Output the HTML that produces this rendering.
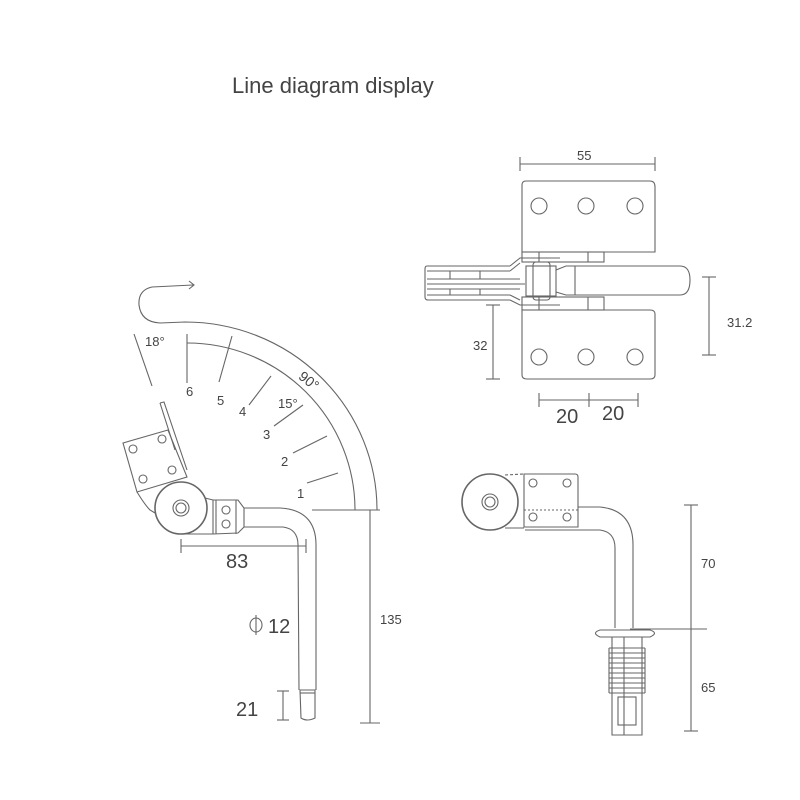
<!DOCTYPE html>
<html><head><meta charset="utf-8"><style>
html,body{margin:0;padding:0;background:#fff;width:800px;height:800px;overflow:hidden}
svg{display:block}
text{font-family:"Liberation Sans",sans-serif;fill:#444}
</style></head><body>
<svg width="800" height="800" viewBox="0 0 800 800" xmlns="http://www.w3.org/2000/svg">
<text x="232" y="93" font-size="22" fill="#444">Line diagram display</text>
<g fill="none" stroke="#666" stroke-width="1.1">
<!-- LEFT: arcs -->
<path d="M193,285 L152,287 Q138,290 139,305 Q141,322 160,323 L185,322 A192,188 0 0 1 377,510"/>
<path d="M189,281 L194,285 L189,289"/>
<path d="M187,343 A168,167 0 0 1 355,510"/>
<line x1="187" y1="334" x2="187" y2="383"/>
<line x1="312" y1="510" x2="380" y2="510"/>
<line x1="370" y1="510" x2="370" y2="723"/>
<line x1="360" y1="723" x2="380" y2="723"/>
<line x1="232" y1="336" x2="219" y2="382"/>
<line x1="271" y1="376" x2="249" y2="405"/>
<line x1="303" y1="405" x2="274" y2="426"/>
<line x1="327" y1="436" x2="293" y2="453"/>
<line x1="338" y1="473" x2="307" y2="483"/>
<line x1="134" y1="334" x2="152" y2="386"/>
<!-- bracket -->
<path d="M123,443 L168,430 L187,477 L137,492 Z"/>
<path d="M160,403 L164,402 L187,470 M160,403 L175,450"/>
<circle cx="133" cy="449" r="4"/><circle cx="162" cy="439" r="4"/>
<circle cx="143" cy="479" r="4"/><circle cx="172" cy="470" r="4"/>
<path d="M137,492 Q145,505 150,510 L155,513"/>
<!-- wheel -->
<circle cx="181" cy="508" r="26" stroke-width="1.6"/>
<circle cx="181" cy="508" r="8"/><circle cx="181" cy="508" r="5"/>
<path d="M205,498 L213,500 L238,500 L244,508 L244,527 L238,533 L213,534 L181,534"/>
<line x1="213" y1="500" x2="213" y2="534"/><line x1="216" y1="500" x2="216" y2="534"/>
<line x1="236" y1="500" x2="236" y2="534"/>
<circle cx="226" cy="510" r="4"/><circle cx="226" cy="524" r="4"/>
<!-- tube -->
<path d="M244,508 L280,508 Q316,510 316,545 L316,690"/>
<path d="M244,527 L283,527 Q298,529 298,545 L299,690"/>
<path d="M300,690 L315,690 L315,718 Q307,722 301,718 Z"/>
<line x1="300" y1="693" x2="315" y2="693"/>
<!-- 83 -->
<line x1="181" y1="546" x2="306" y2="546"/>
<line x1="181" y1="539" x2="181" y2="553"/><line x1="306" y1="539" x2="306" y2="553"/>
<!-- 21 -->
<line x1="283" y1="691" x2="283" y2="720"/>
<line x1="277" y1="691" x2="289" y2="691"/><line x1="277" y1="720" x2="289" y2="720"/>
<!-- phi -->
<ellipse cx="256" cy="625" rx="6" ry="7"/><line x1="256" y1="615" x2="256" y2="635"/>

<!-- RIGHT TOP -->
<line x1="520" y1="164" x2="655" y2="164"/>
<line x1="520" y1="157" x2="520" y2="171"/><line x1="655" y1="157" x2="655" y2="171"/>
<path d="M522,252 L522,185 Q522,181 526,181 L650,181 Q655,181 655,187 L655,252 Z"/>
<circle cx="539" cy="206" r="8"/><circle cx="586" cy="206" r="8"/><circle cx="635" cy="206" r="8"/>
<rect x="522" y="252" width="82" height="10"/>
<line x1="539" y1="252" x2="539" y2="262"/><line x1="588" y1="252" x2="588" y2="262"/>
<rect x="522" y="297" width="82" height="13"/>
<line x1="539" y1="297" x2="539" y2="310"/><line x1="588" y1="297" x2="588" y2="310"/>
<path d="M522,310 L650,310 Q655,310 655,314 L655,375 Q655,379 650,379 L527,379 Q522,379 522,375 Z"/>
<circle cx="539" cy="357" r="8"/><circle cx="586" cy="357" r="8"/><circle cx="635" cy="357" r="8"/>
<!-- handles -->
<path d="M510,266 L427,266 Q425,266 425,269 L425,297 Q425,300 428,300 L510,300"/>
<path d="M427,271 L510,271 M427,279 L520,279 M427,284 L525,284 M427,289 L520,289 M427,295 L510,295"/>
<path d="M510,266 L520,258 L560,258 M510,300 L520,305 L560,305 M510,271 L520,263 M510,295 L520,300"/>
<line x1="450" y1="271" x2="450" y2="279"/><line x1="480" y1="271" x2="480" y2="279"/>
<line x1="450" y1="289" x2="450" y2="295"/><line x1="480" y1="289" x2="480" y2="295"/>
<rect x="526" y="266" width="30" height="30"/>
<rect x="533" y="262" width="17" height="38" rx="3"/>
<path d="M556,270 L566,266 L680,266 Q690,266 690,280 Q690,295 680,295 L566,295 L556,292"/>
<line x1="575" y1="266" x2="575" y2="295"/>
<!-- 31.2 -->
<line x1="709" y1="277" x2="709" y2="355"/>
<line x1="702" y1="277" x2="716" y2="277"/><line x1="702" y1="355" x2="716" y2="355"/>
<!-- 32 -->
<line x1="493" y1="305" x2="493" y2="379"/>
<line x1="486" y1="305" x2="500" y2="305"/><line x1="486" y1="379" x2="500" y2="379"/>
<!-- 20 20 -->
<line x1="539" y1="400" x2="638" y2="400"/>
<line x1="539" y1="393" x2="539" y2="407"/><line x1="589" y1="393" x2="589" y2="407"/><line x1="638" y1="393" x2="638" y2="407"/>

<!-- RIGHT BOTTOM -->
<circle cx="490" cy="502" r="28" stroke-width="1.6"/>
<circle cx="490" cy="502" r="8"/><circle cx="490" cy="502" r="5"/>
<line x1="505" y1="475" x2="524" y2="474" stroke-dasharray="3,2"/>
<line x1="505" y1="528" x2="524" y2="528"/>
<path d="M524,474 L575,474 Q578,474 578,477 L578,527 L524,527 Z"/>
<line x1="524" y1="510" x2="578" y2="510" stroke-dasharray="2,2"/>
<circle cx="533" cy="483" r="4"/><circle cx="567" cy="483" r="4"/>
<circle cx="533" cy="517" r="4"/><circle cx="567" cy="517" r="4"/>
<path d="M525,530 L600,530 Q615,532 615,548 L615,628"/>
<path d="M578,507 L600,507 Q633,510 633,545 L633,628"/>
<line x1="630" y1="629" x2="707" y2="629"/>
<path d="M600,630 L650,630 Q659,633 650,637 L600,637 Q591,633 600,630 Z"/>
<path d="M612,637 L612,735 L642,735 L642,637"/>
<path d="M609,648 h36 M609,653 h36 M609,658 h36 M609,663 h36 M609,668 h36 M609,673 h36 M609,678 h36 M609,683 h36 M609,688 h36 M609,693 h36"/>
<line x1="609" y1="648" x2="609" y2="693"/><line x1="645" y1="648" x2="645" y2="693"/>
<line x1="624" y1="637" x2="624" y2="735"/>
<rect x="618" y="697" width="18" height="28"/>
<line x1="691" y1="505" x2="691" y2="731"/>
<line x1="684" y1="505" x2="698" y2="505"/><line x1="684" y1="731" x2="698" y2="731"/>
</g>
<g font-size="13">
<text x="145" y="346">18°</text>
<text x="186" y="396">6</text><text x="217" y="405">5</text><text x="239" y="416">4</text>
<text x="278" y="408">15°</text><text x="263" y="439">3</text><text x="281" y="466">2</text><text x="297" y="498">1</text>
<text x="298" y="383" transform="rotate(38 305 380)" font-size="14">90°</text>
<text x="380" y="624">135</text>
<text x="577" y="160">55</text>
<text x="727" y="327">31.2</text>
<text x="473" y="350">32</text>
<text x="701" y="568">70</text>
<text x="701" y="692">65</text>
</g>
<g font-size="20">
<text x="226" y="568">83</text>
<text x="268" y="633">12</text>
<text x="236" y="716">21</text>
<text x="556" y="423">20</text>
<text x="602" y="420">20</text>
</g>
</svg>
</body></html>
